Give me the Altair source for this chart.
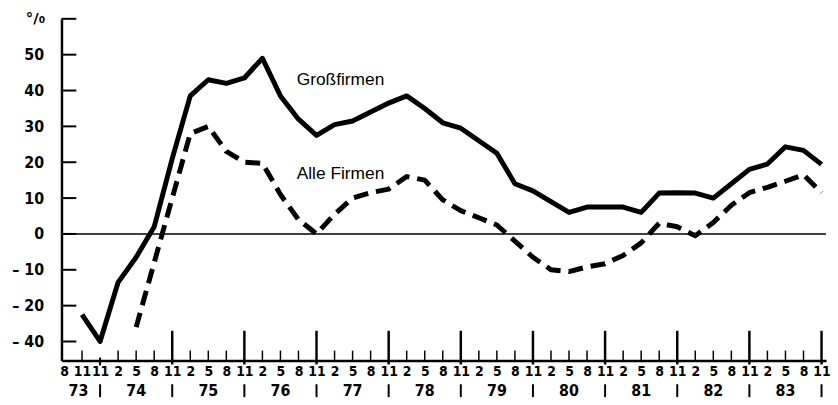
import altair as alt
import pandas as pd

# quarter index 0..42 (8/73 ... 11/83)
quarters = list(range(43))
month_labels = ["8", "11", "11"] + ["2", "5", "8", "11"] * 10
years = ["73", "74", "75", "76", "77", "78", "79", "80", "81", "82", "83"]
year_pos = [0.8, 4, 8, 12, 16, 20, 24, 28, 32, 36, 40]
separators = [2, 6, 10, 14, 18, 22, 26, 30, 34, 38, 42]
major_ticks = [6, 10, 14, 18, 22, 26, 30, 34, 38, 42]

gross = [None, -25, -40, -13.5, -6.5, 2, 21, 38.5, 43, 42, 43.5, 49, 38.5, 32, 27.5,
         30.5, 31.5, 34, 36.5, 38.5, 35, 31, 29.5, 26, 22.5, 14, 12, 9, 6, 7.5, 7.5,
         7.5, 6, 11.4, 11.5, 11.4, 10, 14, 18, 19.5, 24.3, 23.3, 19.4]
alle = [None, None, None, None, -32, -8, 10, 28, 30, 23, 20, 19.7, 11, 4, 0, 5.5, 10,
        11.5, 12.5, 16, 15, 9.5, 6.5, 4.5, 2.5, -2, -6.5, -10, -10.5, -9.2, -8.3, -6,
        -2.5, 3, 2, -0.5, 3.2, 8, 11.5, 13, 14.7, 16.5, 11.5]

y_ticks = [60, 50, 40, 30, 20, 10, 0, -10, -20, -30]

series_names = ["Großfirmen", "Alle Firmen"]
label_pos_q = [12.9, 12.9]
label_pos_v = [42.8, 16.6]


def axis_pos(v):
    # broken axis below -20: -40 is drawn where -30 would be
    if v is None:
        return None
    return v if v >= -20 else -20 + (v + 20) / 2


rows = []
for q, g, a in zip(quarters, gross, alle):
    if g is not None:
        rows.append({"q": q, "v": axis_pos(g), "s": "Großfirmen"})
    if a is not None:
        rows.append({"q": q, "v": axis_pos(a), "s": "Alle Firmen"})
df = pd.DataFrame(rows)

H = 345
W = 772
FONT = "'DejaVu Sans Condensed', 'DejaVu Sans', sans-serif"

xs = alt.Scale(domain=[-0.14, 42.25], nice=False, zero=False)
ys = alt.Scale(domain=[-35.3, 60], nice=False, zero=False)

label_arr = "[" + ",".join("'%s'" % m for m in month_labels) + "]"

XAX = alt.Axis(
    values=quarters, labelExpr=label_arr + "[datum.value]", ticks=False, grid=False,
    domainColor="black", domainWidth=2.5, labelFont=FONT, labelFontSize=14,
    labelFontWeight="bold", labelColor="black", labelPadding=4, title=None,
    labelOverlap=False, labelFlush=False)
YAX = alt.Axis(
    values=y_ticks,
    labelExpr="datum.value == 60 ? '' : datum.value == -30 ? '\u2013 40' : datum.value < 0 ? '\u2013 ' + abs(datum.value) : '' + datum.value",
    ticks=False, grid=False, domainColor="black", domainWidth=2.5, labelFont=FONT,
    labelFontSize=16, labelFontWeight="bold", labelColor="black", labelPadding=18,
    title=None, labelFlush=False, labelOverlap=False)


def X():
    return alt.X("q:Q", scale=xs, axis=XAX)


def Y():
    return alt.Y("v:Q", scale=ys, axis=YAX)


solid = alt.Chart(df).transform_filter(alt.datum.s == "Großfirmen").mark_line(
    color="black", strokeWidth=5, strokeJoin="round", strokeCap="butt"
).encode(x=X(), y=Y())

dashed = alt.Chart(df).transform_filter(alt.datum.s == "Alle Firmen").mark_line(
    color="black", strokeWidth=5, strokeDash=[15, 8], strokeJoin="round", strokeCap="butt"
).encode(x=X(), y=Y())

zero = alt.Chart(pd.DataFrame({"v": [0]})).mark_rule(color="black", strokeWidth=1.5).encode(
    y=Y()
)

ytick_df = pd.DataFrame({"v": y_ticks})
yticks = alt.Chart(ytick_df).mark_rule(color="black", strokeWidth=2).encode(
    y=Y(), x=alt.value(0), x2=alt.value(15)
)

minor_q = [q for q in quarters if q not in major_ticks and q not in (0, 2)]
minor = alt.Chart(pd.DataFrame({"q": minor_q})).mark_rule(color="black", strokeWidth=1.5).encode(
    x=X(), y=alt.value(H), y2=alt.value(H - 10)
)
major = alt.Chart(pd.DataFrame({"q": major_ticks})).mark_rule(color="black", strokeWidth=2.5).encode(
    x=X(), y=alt.value(H + 4), y2=alt.value(H - 30)
)
small = alt.Chart(pd.DataFrame({"q": [2]})).mark_rule(color="black", strokeWidth=2).encode(
    x=X(), y=alt.value(H - 3), y2=alt.value(H + 5)
)
seps = alt.Chart(pd.DataFrame({"q": separators})).mark_rule(color="black", strokeWidth=2).encode(
    x=X(), y=alt.value(H + 24), y2=alt.value(H + 37)
)
year_text = alt.Chart(pd.DataFrame({"q": year_pos, "t": years})).mark_text(
    font=FONT, fontSize=16, fontWeight="bold", color="black", baseline="middle",
    align="center"
).encode(
    x=X(), y=alt.value(H + 31), text="t:N"
)

labels = alt.Chart(pd.DataFrame({"q": label_pos_q, "v": label_pos_v, "t": series_names})).mark_text(
    font="'Liberation Sans', Arial, sans-serif", fontSize=17.5, color="black",
    align="left", baseline="middle"
).encode(
    x=X(), y=Y(), text="t:N"
)

unit = alt.Chart(pd.DataFrame({"t": ["°/₀"]})).mark_text(
    font="'DejaVu Sans', sans-serif", fontSize=15, fontWeight="bold", color="black",
    align="left", baseline="middle"
).encode(x=alt.value(-36), y=alt.value(-1), text="t:N")

chart = alt.layer(
    solid, dashed, zero, yticks, minor, major, small, seps, year_text, labels, unit
).properties(
    width=W, height=H, autosize="none",
    padding={"left": 54, "top": 9, "right": 4, "bottom": 42},
).configure_view(stroke=None)

chart.save("out.html", embed_options={"renderer": "svg", "actions": False})
